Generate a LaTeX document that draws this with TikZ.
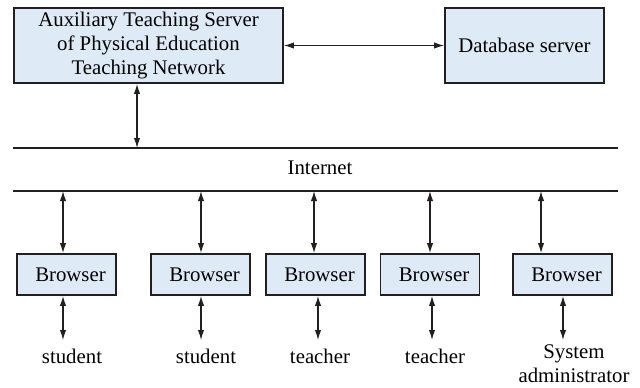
\documentclass[tikz,border=0pt]{standalone}
\usepackage{fontspec}
\setmainfont{Liberation Serif}
\usetikzlibrary{arrows.meta}
\definecolor{boxblue}{RGB}{222,235,246}
\definecolor{inkgray}{RGB}{35,31,32}
\tikzset{
  srvbox/.style={draw=inkgray, line width=0.9pt, fill=boxblue, align=center, inner sep=0pt},
  browser/.style={srvbox, minimum width=49.5pt, minimum height=20.5pt},
  link/.style={draw=inkgray, line width=0.6pt, {Latex[length=5pt,width=3.2pt]}-{Latex[length=5pt,width=3.2pt]}},
  netline/.style={draw=inkgray, line width=0.7pt},
}
\begin{document}
\begin{tikzpicture}[x=0.5pt, y=-0.5pt, font=\fontsize{10.4}{12}\selectfont]
    \useasboundingbox (0,0) rectangle (640,387);

    % Servers on top
    \node[srvbox, minimum width=134.5pt, minimum height=37.5pt] (ats) at (148.5,45.5)
        {Auxiliary Teaching Server\\of Physical Education\\Teaching Network};
    \node[srvbox, minimum width=79.5pt, minimum height=37.5pt] (db) at (524.5,45.5) {Database server};
    \draw[link] (ats.east) -- (db.west);

    % Internet band
    \draw[netline] (13,148) -- (618,148);
    \draw[netline] (13,191) -- (618,191);
    \node (net) at (320,168) {Internet};

    \coordinate (tap) at (137,148);
    \draw[link] (ats.south -| tap) -- (tap);

    % Browsers and their users
    \foreach \i/\x/\ax/\bx/\lx/\ly/\who in {1/66.5/63/63/72/356/student,
        2/200.5/201/201/206/356/student, 3/315.5/314/318/320/356/teacher,
        4/430/430/432/435/356/teacher, 5/562.5/541/563/574/363.5/{System\\administrator}} {
        \node[browser] (br\i) at (\x,274.5) {\hspace*{4pt}Browser};
        \coordinate (up\i) at (\ax,191);
        \coordinate (dn\i) at (\bx,340);
        \draw[link] (up\i) -- (br\i.north -| up\i);
        \draw[link] (br\i.south -| dn\i) -- (dn\i);
        \node[align=center] (usr\i) at (\lx,\ly) {\who};
    }
\end{tikzpicture}
\end{document}
